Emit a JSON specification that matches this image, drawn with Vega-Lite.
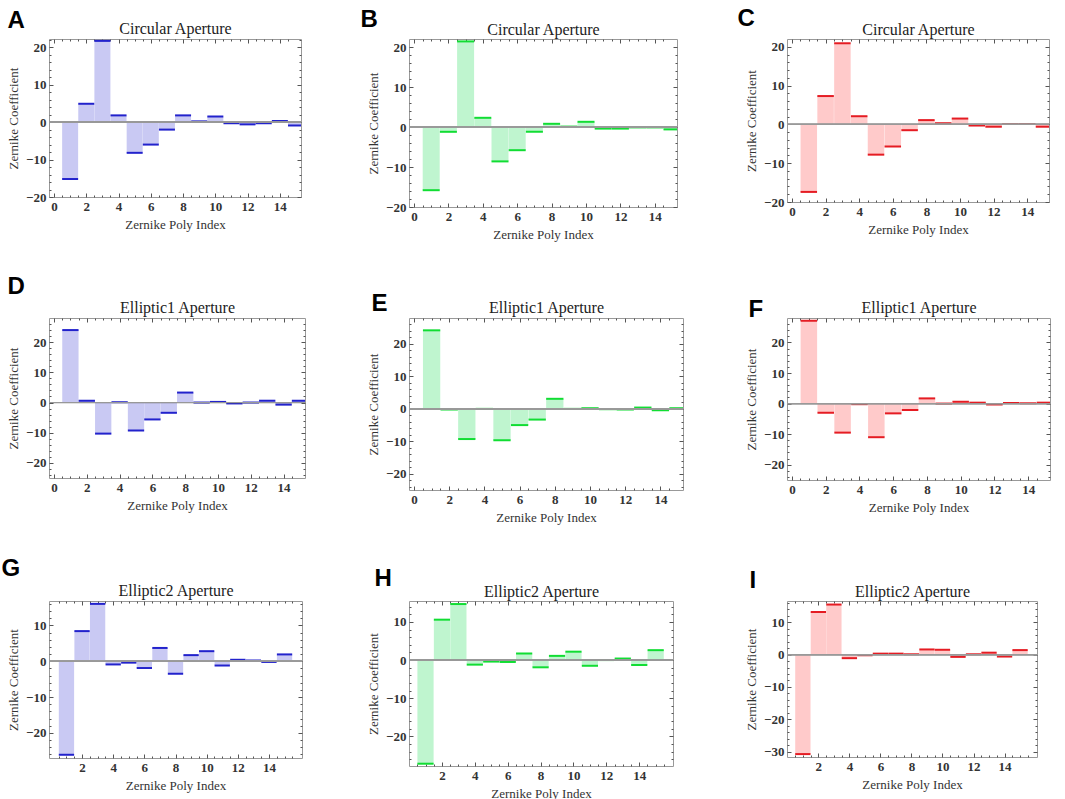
{
"$schema": "https://vega.github.io/schema/vega-lite/v6.json",
"padding": {"left": 1, "top": 6, "right": 0, "bottom": 0},
"background": "white",
"columns": 3,
"align": "each",
"bounds": "flush",
"spacing": {"row": 111, "column": 104},
"datasets": {
"A": [{"i":1,"c":-15.2},{"i":2,"c":4.9},{"i":3,"c":21.7},{"i":4,"c":1.8},{"i":5,"c":-8.2},{"i":6,"c":-6.0},{"i":7,"c":-2.0},{"i":8,"c":1.8},{"i":9,"c":0.2},{"i":10,"c":1.5},{"i":11,"c":-0.3},{"i":12,"c":-0.6},{"i":13,"c":-0.3},{"i":14,"c":0.3},{"i":15,"c":-0.9}],
"B": [{"i":1,"c":-15.8},{"i":2,"c":-1.2},{"i":3,"c":21.4},{"i":4,"c":2.3},{"i":5,"c":-8.6},{"i":6,"c":-5.8},{"i":7,"c":-1.2},{"i":8,"c":0.8},{"i":9,"c":0.1},{"i":10,"c":1.3},{"i":11,"c":-0.4},{"i":12,"c":-0.4},{"i":13,"c":-0.1},{"i":14,"c":-0.1},{"i":15,"c":-0.6}],
"C": [{"i":1,"c":-17.4},{"i":2,"c":7.3},{"i":3,"c":20.9},{"i":4,"c":2.1},{"i":5,"c":-7.8},{"i":6,"c":-5.7},{"i":7,"c":-1.5},{"i":8,"c":1.1},{"i":9,"c":0.3},{"i":10,"c":1.5},{"i":11,"c":-0.3},{"i":12,"c":-0.6},{"i":13,"c":0.1},{"i":14,"c":0.1},{"i":15,"c":-0.6}],
"D": [{"i":1,"c":24.0},{"i":2,"c":0.6},{"i":3,"c":-10.3},{"i":4,"c":0.1},{"i":5,"c":-9.3},{"i":6,"c":-5.6},{"i":7,"c":-3.4},{"i":8,"c":3.3},{"i":9,"c":0.0},{"i":10,"c":0.2},{"i":11,"c":-0.3},{"i":12,"c":0.0},{"i":13,"c":0.6},{"i":14,"c":-0.7},{"i":15,"c":0.6}],
"E": [{"i":1,"c":24.2},{"i":2,"c":-0.2},{"i":3,"c":-9.3},{"i":4,"c":0.0},{"i":5,"c":-9.7},{"i":6,"c":-5.0},{"i":7,"c":-3.3},{"i":8,"c":3.1},{"i":9,"c":0.0},{"i":10,"c":0.2},{"i":11,"c":-0.1},{"i":12,"c":-0.2},{"i":13,"c":0.4},{"i":14,"c":-0.4},{"i":15,"c":0.2}],
"F": [{"i":1,"c":27.1},{"i":2,"c":-3.0},{"i":3,"c":-9.5},{"i":4,"c":-0.2},{"i":5,"c":-11.0},{"i":6,"c":-3.2},{"i":7,"c":-2.1},{"i":8,"c":1.7},{"i":9,"c":0.0},{"i":10,"c":0.6},{"i":11,"c":0.3},{"i":12,"c":-0.3},{"i":13,"c":0.2},{"i":14,"c":0.1},{"i":15,"c":0.3}],
"G": [{"i":1,"c":-26.1},{"i":2,"c":8.4},{"i":3,"c":16.0},{"i":4,"c":-0.9},{"i":5,"c":-0.4},{"i":6,"c":-1.9},{"i":7,"c":3.7},{"i":8,"c":-3.5},{"i":9,"c":1.7},{"i":10,"c":2.8},{"i":11,"c":-1.2},{"i":12,"c":0.4},{"i":13,"c":0.2},{"i":14,"c":-0.2},{"i":15,"c":1.9}],
"H": [{"i":1,"c":-27.2},{"i":2,"c":10.6},{"i":3,"c":14.7},{"i":4,"c":-1.2},{"i":5,"c":-0.4},{"i":6,"c":-0.5},{"i":7,"c":1.7},{"i":8,"c":-1.9},{"i":9,"c":1.1},{"i":10,"c":2.2},{"i":11,"c":-1.5},{"i":12,"c":0.0},{"i":13,"c":0.4},{"i":14,"c":-1.3},{"i":15,"c":2.6}],
"I": [{"i":1,"c":-30.8},{"i":2,"c":13.2},{"i":3,"c":15.5},{"i":4,"c":-1.1},{"i":5,"c":-0.2},{"i":6,"c":0.3},{"i":7,"c":0.3},{"i":8,"c":0.1},{"i":9,"c":1.6},{"i":10,"c":1.5},{"i":11,"c":-0.7},{"i":12,"c":0.1},{"i":13,"c":0.6},{"i":14,"c":-0.6},{"i":15,"c":1.4}]
},
"concat": [
{"title": {"text": "A", "offset": -12, "dx": 0}, "width": 252, "height": 158, "data": {"name": "A"},
 "layer": [
  {"mark": {"type": "bar", "width": 16, "color": "#c9c9f3", "clip": true},
   "encoding": {"x": {"field": "i", "type": "quantitative", "scale": {"domain": [0, 15], "nice": false, "zero": false}, "axis": {"orient": "bottom", "values": [0,2,4,6,8,10,12,14], "title": "Zernike Poly Index"}},
                "y": {"field": "c", "type": "quantitative", "scale": {"domain": [-20, 22.2], "nice": false}, "axis": {"orient": "left", "values": [-20,-10,0,10,20], "title": "Zernike Coefficient"}}}},
  {"mark": {"type": "tick", "orient": "horizontal", "size": 16, "thickness": 2, "color": "#2222cc", "opacity": 1, "clip": true},
   "encoding": {"x": {"field": "i", "type": "quantitative", "axis": {"orient": "top", "values": [0,2,4,6,8,10,12,14], "labels": false, "title": "Circular Aperture", "titleFontSize": 16, "titleColor": "#222", "titlePadding": 2}},
                "y": {"field": "c", "type": "quantitative", "axis": {"orient": "right", "values": [-20,-10,0,10,20], "labels": false, "title": null}}}},
  {"mark": {"type": "rule", "color": "#999", "strokeWidth": 1}, "encoding": {"y": {"datum": 0, "axis": {"orient": "left", "values": [-18,-16,-14,-12,-8,-6,-4,-2,2,4,6,8,12,14,16,18,22], "labels": false, "title": null, "tickSize": -2}}}},
  {"mark": {"type": "point", "opacity": 0}, "encoding": {"x": {"field": "i", "type": "quantitative", "axis": {"orient": "bottom", "values": [0.5,1,1.5,2.5,3,3.5,4.5,5,5.5,6.5,7,7.5,8.5,9,9.5,10.5,11,11.5,12.5,13,13.5,14.5], "labels": false, "title": null, "tickSize": -2}},
                "y": {"field": "c", "type": "quantitative", "axis": {"orient": "right", "values": [-18,-16,-14,-12,-8,-6,-4,-2,2,4,6,8,12,14,16,18,22], "labels": false, "title": null, "tickSize": -2}}}},
  {"mark": {"type": "point", "opacity": 0}, "encoding": {"x": {"field": "i", "type": "quantitative", "axis": {"orient": "top", "values": [0.5,1,1.5,2.5,3,3.5,4.5,5,5.5,6.5,7,7.5,8.5,9,9.5,10.5,11,11.5,12.5,13,13.5,14.5], "labels": false, "title": null, "tickSize": -2}},
                "y": {"field": "c", "type": "quantitative", "axis": null}}}
 ],
 "resolve": {"axis": {"x": "independent", "y": "independent"}}},
{"title": {"text": "B", "offset": -10, "dx": -7}, "width": 268, "height": 168, "data": {"name": "B"},
 "layer": [
  {"mark": {"type": "bar", "width": 17, "color": "#bff5cf", "clip": true},
   "encoding": {"x": {"field": "i", "type": "quantitative", "scale": {"domain": [0, 15], "nice": false, "zero": false}, "axis": {"orient": "bottom", "values": [0,2,4,6,8,10,12,14], "title": "Zernike Poly Index"}},
                "y": {"field": "c", "type": "quantitative", "scale": {"domain": [-20, 22], "nice": false}, "axis": {"orient": "left", "values": [-20,-10,0,10,20], "title": "Zernike Coefficient"}}}},
  {"mark": {"type": "tick", "orient": "horizontal", "size": 17, "thickness": 2, "color": "#11dd33", "opacity": 1, "clip": true},
   "encoding": {"x": {"field": "i", "type": "quantitative", "axis": {"orient": "top", "values": [0,2,4,6,8,10,12,14], "labels": false, "title": "Circular Aperture", "titleFontSize": 16, "titleColor": "#222", "titlePadding": 1}},
                "y": {"field": "c", "type": "quantitative", "axis": {"orient": "right", "values": [-20,-10,0,10,20], "labels": false, "title": null}}}},
  {"mark": {"type": "rule", "color": "#999", "strokeWidth": 1}, "encoding": {"y": {"datum": 0, "axis": {"orient": "left", "values": [-18,-16,-14,-12,-8,-6,-4,-2,2,4,6,8,12,14,16,18], "labels": false, "title": null, "tickSize": -2}}}},
  {"mark": {"type": "point", "opacity": 0}, "encoding": {"x": {"field": "i", "type": "quantitative", "axis": {"orient": "bottom", "values": [0.5,1,1.5,2.5,3,3.5,4.5,5,5.5,6.5,7,7.5,8.5,9,9.5,10.5,11,11.5,12.5,13,13.5,14.5], "labels": false, "title": null, "tickSize": -2}},
                "y": {"field": "c", "type": "quantitative", "axis": {"orient": "right", "values": [-18,-16,-14,-12,-8,-6,-4,-2,2,4,6,8,12,14,16,18], "labels": false, "title": null, "tickSize": -2}}}},
  {"mark": {"type": "point", "opacity": 0}, "encoding": {"x": {"field": "i", "type": "quantitative", "axis": {"orient": "top", "values": [0.5,1,1.5,2.5,3,3.5,4.5,5,5.5,6.5,7,7.5,8.5,9,9.5,10.5,11,11.5,12.5,13,13.5,14.5], "labels": false, "title": null, "tickSize": -2}},
                "y": {"field": "c", "type": "quantitative", "axis": null}}}
 ],
 "resolve": {"axis": {"x": "independent", "y": "independent"}}},
{"title": {"text": "C", "offset": -9, "dx": -8}, "width": 262, "height": 163, "data": {"name": "C"},
 "layer": [
  {"mark": {"type": "bar", "width": 16.5, "color": "#ffcaca", "clip": true},
   "encoding": {"x": {"field": "i", "type": "quantitative", "scale": {"domain": [0, 15], "nice": false, "zero": false}, "axis": {"orient": "bottom", "values": [0,2,4,6,8,10,12,14], "title": "Zernike Poly Index"}},
                "y": {"field": "c", "type": "quantitative", "scale": {"domain": [-20, 22], "nice": false}, "axis": {"orient": "left", "values": [-20,-10,0,10,20], "title": "Zernike Coefficient"}}}},
  {"mark": {"type": "tick", "orient": "horizontal", "size": 16.5, "thickness": 2, "color": "#e51c23", "opacity": 1, "clip": true},
   "encoding": {"x": {"field": "i", "type": "quantitative", "axis": {"orient": "top", "values": [0,2,4,6,8,10,12,14], "labels": false, "title": "Circular Aperture", "titleFontSize": 16, "titleColor": "#222", "titlePadding": 1}},
                "y": {"field": "c", "type": "quantitative", "axis": {"orient": "right", "values": [-20,-10,0,10,20], "labels": false, "title": null}}}},
  {"mark": {"type": "rule", "color": "#999", "strokeWidth": 1}, "encoding": {"y": {"datum": 0, "axis": {"orient": "left", "values": [-18,-16,-14,-12,-8,-6,-4,-2,2,4,6,8,12,14,16,18], "labels": false, "title": null, "tickSize": -2}}}},
  {"mark": {"type": "point", "opacity": 0}, "encoding": {"x": {"field": "i", "type": "quantitative", "axis": {"orient": "bottom", "values": [0.5,1,1.5,2.5,3,3.5,4.5,5,5.5,6.5,7,7.5,8.5,9,9.5,10.5,11,11.5,12.5,13,13.5,14.5], "labels": false, "title": null, "tickSize": -2}},
                "y": {"field": "c", "type": "quantitative", "axis": {"orient": "right", "values": [-18,-16,-14,-12,-8,-6,-4,-2,2,4,6,8,12,14,16,18], "labels": false, "title": null, "tickSize": -2}}}},
  {"mark": {"type": "point", "opacity": 0}, "encoding": {"x": {"field": "i", "type": "quantitative", "axis": {"orient": "top", "values": [0.5,1,1.5,2.5,3,3.5,4.5,5,5.5,6.5,7,7.5,8.5,9,9.5,10.5,11,11.5,12.5,13,13.5,14.5], "labels": false, "title": null, "tickSize": -2}},
                "y": {"field": "c", "type": "quantitative", "axis": null}}}
 ],
 "resolve": {"axis": {"x": "independent", "y": "independent"}}},
{"title": {"text": "D", "offset": 1, "dx": 0}, "width": 256, "height": 160, "data": {"name": "D"},
 "layer": [
  {"mark": {"type": "bar", "width": 16.3, "color": "#c9c9f3", "clip": true},
   "encoding": {"x": {"field": "i", "type": "quantitative", "scale": {"domain": [0, 15], "nice": false, "zero": false}, "axis": {"orient": "bottom", "values": [0,2,4,6,8,10,12,14], "title": "Zernike Poly Index"}},
                "y": {"field": "c", "type": "quantitative", "scale": {"domain": [-25, 28], "nice": false}, "axis": {"orient": "left", "values": [-20,-10,0,10,20], "title": "Zernike Coefficient"}}}},
  {"mark": {"type": "tick", "orient": "horizontal", "size": 16.3, "thickness": 2, "color": "#2222cc", "opacity": 1, "clip": true},
   "encoding": {"x": {"field": "i", "type": "quantitative", "axis": {"orient": "top", "values": [0,2,4,6,8,10,12,14], "labels": false, "title": "Elliptic1 Aperture", "titleFontSize": 16, "titleColor": "#222", "titlePadding": 2}},
                "y": {"field": "c", "type": "quantitative", "axis": {"orient": "right", "values": [-20,-10,0,10,20], "labels": false, "title": null}}}},
  {"mark": {"type": "rule", "color": "#999", "strokeWidth": 1}, "encoding": {"y": {"datum": 0, "axis": {"orient": "left", "values": [-24,-22,-18,-16,-14,-12,-8,-6,-4,-2,2,4,6,8,12,14,16,18,22,24,26], "labels": false, "title": null, "tickSize": -2}}}},
  {"mark": {"type": "point", "opacity": 0}, "encoding": {"x": {"field": "i", "type": "quantitative", "axis": {"orient": "bottom", "values": [0.5,1,1.5,2.5,3,3.5,4.5,5,5.5,6.5,7,7.5,8.5,9,9.5,10.5,11,11.5,12.5,13,13.5,14.5], "labels": false, "title": null, "tickSize": -2}},
                "y": {"field": "c", "type": "quantitative", "axis": {"orient": "right", "values": [-24,-22,-18,-16,-14,-12,-8,-6,-4,-2,2,4,6,8,12,14,16,18,22,24,26], "labels": false, "title": null, "tickSize": -2}}}},
  {"mark": {"type": "point", "opacity": 0}, "encoding": {"x": {"field": "i", "type": "quantitative", "axis": {"orient": "top", "values": [0.5,1,1.5,2.5,3,3.5,4.5,5,5.5,6.5,7,7.5,8.5,9,9.5,10.5,11,11.5,12.5,13,13.5,14.5], "labels": false, "title": null, "tickSize": -2}},
                "y": {"field": "c", "type": "quantitative", "axis": null}}}
 ],
 "resolve": {"axis": {"x": "independent", "y": "independent"}}},
{"title": {"text": "E", "offset": -16, "dx": 4}, "width": 274, "height": 172, "data": {"name": "E"},
 "layer": [
  {"mark": {"type": "bar", "width": 17.3, "color": "#bff5cf", "clip": true},
   "encoding": {"x": {"field": "i", "type": "quantitative", "scale": {"domain": [0, 15], "nice": false, "zero": false}, "axis": {"orient": "bottom", "values": [0,2,4,6,8,10,12,14], "title": "Zernike Poly Index"}},
                "y": {"field": "c", "type": "quantitative", "scale": {"domain": [-25, 28], "nice": false}, "axis": {"orient": "left", "values": [-20,-10,0,10,20], "title": "Zernike Coefficient"}}}},
  {"mark": {"type": "tick", "orient": "horizontal", "size": 17.3, "thickness": 2, "color": "#11dd33", "opacity": 1, "clip": true},
   "encoding": {"x": {"field": "i", "type": "quantitative", "axis": {"orient": "top", "values": [0,2,4,6,8,10,12,14], "labels": false, "title": "Elliptic1 Aperture", "titleFontSize": 16, "titleColor": "#222", "titlePadding": 2}},
                "y": {"field": "c", "type": "quantitative", "axis": {"orient": "right", "values": [-20,-10,0,10,20], "labels": false, "title": null}}}},
  {"mark": {"type": "rule", "color": "#999", "strokeWidth": 1}, "encoding": {"y": {"datum": 0, "axis": {"orient": "left", "values": [-24,-22,-18,-16,-14,-12,-8,-6,-4,-2,2,4,6,8,12,14,16,18,22,24,26], "labels": false, "title": null, "tickSize": -2}}}},
  {"mark": {"type": "point", "opacity": 0}, "encoding": {"x": {"field": "i", "type": "quantitative", "axis": {"orient": "bottom", "values": [0.5,1,1.5,2.5,3,3.5,4.5,5,5.5,6.5,7,7.5,8.5,9,9.5,10.5,11,11.5,12.5,13,13.5,14.5], "labels": false, "title": null, "tickSize": -2}},
                "y": {"field": "c", "type": "quantitative", "axis": {"orient": "right", "values": [-24,-22,-18,-16,-14,-12,-8,-6,-4,-2,2,4,6,8,12,14,16,18,22,24,26], "labels": false, "title": null, "tickSize": -2}}}},
  {"mark": {"type": "point", "opacity": 0}, "encoding": {"x": {"field": "i", "type": "quantitative", "axis": {"orient": "top", "values": [0.5,1,1.5,2.5,3,3.5,4.5,5,5.5,6.5,7,7.5,8.5,9,9.5,10.5,11,11.5,12.5,13,13.5,14.5], "labels": false, "title": null, "tickSize": -2}},
                "y": {"field": "c", "type": "quantitative", "axis": null}}}
 ],
 "resolve": {"axis": {"x": "independent", "y": "independent"}}},
{"title": {"text": "F", "offset": -22, "dx": 3}, "width": 263, "height": 162, "data": {"name": "F"},
 "layer": [
  {"mark": {"type": "bar", "width": 16.5, "color": "#ffcaca", "clip": true},
   "encoding": {"x": {"field": "i", "type": "quantitative", "scale": {"domain": [0, 15], "nice": false, "zero": false}, "axis": {"orient": "bottom", "values": [0,2,4,6,8,10,12,14], "title": "Zernike Poly Index"}},
                "y": {"field": "c", "type": "quantitative", "scale": {"domain": [-25, 28], "nice": false}, "axis": {"orient": "left", "values": [-20,-10,0,10,20], "title": "Zernike Coefficient"}}}},
  {"mark": {"type": "tick", "orient": "horizontal", "size": 16.5, "thickness": 2, "color": "#e51c23", "opacity": 1, "clip": true},
   "encoding": {"x": {"field": "i", "type": "quantitative", "axis": {"orient": "top", "values": [0,2,4,6,8,10,12,14], "labels": false, "title": "Elliptic1 Aperture", "titleFontSize": 16, "titleColor": "#222", "titlePadding": 2}},
                "y": {"field": "c", "type": "quantitative", "axis": {"orient": "right", "values": [-20,-10,0,10,20], "labels": false, "title": null}}}},
  {"mark": {"type": "rule", "color": "#999", "strokeWidth": 1}, "encoding": {"y": {"datum": 0, "axis": {"orient": "left", "values": [-24,-22,-18,-16,-14,-12,-8,-6,-4,-2,2,4,6,8,12,14,16,18,22,24,26], "labels": false, "title": null, "tickSize": -2}}}},
  {"mark": {"type": "point", "opacity": 0}, "encoding": {"x": {"field": "i", "type": "quantitative", "axis": {"orient": "bottom", "values": [0.5,1,1.5,2.5,3,3.5,4.5,5,5.5,6.5,7,7.5,8.5,9,9.5,10.5,11,11.5,12.5,13,13.5,14.5], "labels": false, "title": null, "tickSize": -2}},
                "y": {"field": "c", "type": "quantitative", "axis": {"orient": "right", "values": [-24,-22,-18,-16,-14,-12,-8,-6,-4,-2,2,4,6,8,12,14,16,18,22,24,26], "labels": false, "title": null, "tickSize": -2}}}},
  {"mark": {"type": "point", "opacity": 0}, "encoding": {"x": {"field": "i", "type": "quantitative", "axis": {"orient": "top", "values": [0.5,1,1.5,2.5,3,3.5,4.5,5,5.5,6.5,7,7.5,8.5,9,9.5,10.5,11,11.5,12.5,13,13.5,14.5], "labels": false, "title": null, "tickSize": -2}},
                "y": {"field": "c", "type": "quantitative", "axis": null}}}
 ],
 "resolve": {"axis": {"x": "independent", "y": "independent"}}},
{"title": {"text": "G", "offset": 2, "dx": -6}, "width": 253, "height": 157, "data": {"name": "G"},
 "layer": [
  {"mark": {"type": "bar", "width": 15.3, "color": "#c9c9f3", "clip": true},
   "encoding": {"x": {"field": "i", "type": "quantitative", "scale": {"domain": [0.2, 15.8], "nice": false, "zero": false}, "axis": {"orient": "bottom", "values": [2,4,6,8,10,12,14], "title": "Zernike Poly Index"}},
                "y": {"field": "c", "type": "quantitative", "scale": {"domain": [-27, 16.8], "nice": false}, "axis": {"orient": "left", "values": [-20,-10,0,10], "title": "Zernike Coefficient"}}}},
  {"mark": {"type": "tick", "orient": "horizontal", "size": 15.3, "thickness": 2, "color": "#2222cc", "opacity": 1, "clip": true},
   "encoding": {"x": {"field": "i", "type": "quantitative", "axis": {"orient": "top", "values": [2,4,6,8,10,12,14], "labels": false, "title": "Elliptic2 Aperture", "titleFontSize": 16, "titleColor": "#222", "titlePadding": 2}},
                "y": {"field": "c", "type": "quantitative", "axis": {"orient": "right", "values": [-20,-10,0,10], "labels": false, "title": null}}}},
  {"mark": {"type": "rule", "color": "#999", "strokeWidth": 1}, "encoding": {"y": {"datum": 0, "axis": {"orient": "left", "values": [-26,-24,-22,-18,-16,-14,-12,-8,-6,-4,-2,2,4,6,8,12,14,16], "labels": false, "title": null, "tickSize": -2}}}},
  {"mark": {"type": "point", "opacity": 0}, "encoding": {"x": {"field": "i", "type": "quantitative", "axis": {"orient": "bottom", "values": [0.5,1,1.5,2.5,3,3.5,4.5,5,5.5,6.5,7,7.5,8.5,9,9.5,10.5,11,11.5,12.5,13,13.5,14.5,15,15.5], "labels": false, "title": null, "tickSize": -2}},
                "y": {"field": "c", "type": "quantitative", "axis": {"orient": "right", "values": [-26,-24,-22,-18,-16,-14,-12,-8,-6,-4,-2,2,4,6,8,12,14,16], "labels": false, "title": null, "tickSize": -2}}}},
  {"mark": {"type": "point", "opacity": 0}, "encoding": {"x": {"field": "i", "type": "quantitative", "axis": {"orient": "top", "values": [0.5,1,1.5,2.5,3,3.5,4.5,5,5.5,6.5,7,7.5,8.5,9,9.5,10.5,11,11.5,12.5,13,13.5,14.5,15,15.5], "labels": false, "title": null, "tickSize": -2}},
                "y": {"field": "c", "type": "quantitative", "axis": null}}}
 ],
 "resolve": {"axis": {"x": "independent", "y": "independent"}}},
{"title": {"text": "H", "offset": -7, "dx": 7}, "width": 264, "height": 165, "data": {"name": "H"},
 "layer": [
  {"mark": {"type": "bar", "width": 16.2, "color": "#bff5cf", "clip": true},
   "encoding": {"x": {"field": "i", "type": "quantitative", "scale": {"domain": [0.3, 15.75], "nice": false, "zero": false}, "axis": {"orient": "bottom", "values": [2,4,6,8,10,12,14], "title": "Zernike Poly Index"}},
                "y": {"field": "c", "type": "quantitative", "scale": {"domain": [-27.8, 15.5], "nice": false}, "axis": {"orient": "left", "values": [-20,-10,0,10], "title": "Zernike Coefficient"}}}},
  {"mark": {"type": "tick", "orient": "horizontal", "size": 16.2, "thickness": 2, "color": "#11dd33", "opacity": 1, "clip": true},
   "encoding": {"x": {"field": "i", "type": "quantitative", "axis": {"orient": "top", "values": [2,4,6,8,10,12,14], "labels": false, "title": "Elliptic2 Aperture", "titleFontSize": 16, "titleColor": "#222", "titlePadding": 1}},
                "y": {"field": "c", "type": "quantitative", "axis": {"orient": "right", "values": [-20,-10,0,10], "labels": false, "title": null}}}},
  {"mark": {"type": "rule", "color": "#999", "strokeWidth": 1}, "encoding": {"y": {"datum": 0, "axis": {"orient": "left", "values": [-26,-24,-22,-18,-16,-14,-12,-8,-6,-4,-2,2,4,6,8,12,14], "labels": false, "title": null, "tickSize": -2}}}},
  {"mark": {"type": "point", "opacity": 0}, "encoding": {"x": {"field": "i", "type": "quantitative", "axis": {"orient": "bottom", "values": [0.5,1,1.5,2.5,3,3.5,4.5,5,5.5,6.5,7,7.5,8.5,9,9.5,10.5,11,11.5,12.5,13,13.5,14.5,15,15.5], "labels": false, "title": null, "tickSize": -2}},
                "y": {"field": "c", "type": "quantitative", "axis": {"orient": "right", "values": [-26,-24,-22,-18,-16,-14,-12,-8,-6,-4,-2,2,4,6,8,12,14], "labels": false, "title": null, "tickSize": -2}}}},
  {"mark": {"type": "point", "opacity": 0}, "encoding": {"x": {"field": "i", "type": "quantitative", "axis": {"orient": "top", "values": [0.5,1,1.5,2.5,3,3.5,4.5,5,5.5,6.5,7,7.5,8.5,9,9.5,10.5,11,11.5,12.5,13,13.5,14.5,15,15.5], "labels": false, "title": null, "tickSize": -2}},
                "y": {"field": "c", "type": "quantitative", "axis": null}}}
 ],
 "resolve": {"axis": {"x": "independent", "y": "independent"}}},
{"title": {"text": "I", "offset": -9, "dx": 4}, "width": 250, "height": 156, "data": {"name": "I"},
 "layer": [
  {"mark": {"type": "bar", "width": 15.3, "color": "#ffcaca", "clip": true},
   "encoding": {"x": {"field": "i", "type": "quantitative", "scale": {"domain": [0.3, 15.77], "nice": false, "zero": false}, "axis": {"orient": "bottom", "values": [2,4,6,8,10,12,14], "title": "Zernike Poly Index"}},
                "y": {"field": "c", "type": "quantitative", "scale": {"domain": [-31.7, 16.6], "nice": false}, "axis": {"orient": "left", "values": [-30,-20,-10,0,10], "title": "Zernike Coefficient"}}}},
  {"mark": {"type": "tick", "orient": "horizontal", "size": 15.3, "thickness": 2, "color": "#e51c23", "opacity": 1, "clip": true},
   "encoding": {"x": {"field": "i", "type": "quantitative", "axis": {"orient": "top", "values": [2,4,6,8,10,12,14], "labels": false, "title": "Elliptic2 Aperture", "titleFontSize": 16, "titleColor": "#222", "titlePadding": 1}},
                "y": {"field": "c", "type": "quantitative", "axis": {"orient": "right", "values": [-30,-20,-10,0,10], "labels": false, "title": null}}}},
  {"mark": {"type": "rule", "color": "#999", "strokeWidth": 1}, "encoding": {"y": {"datum": 0, "axis": {"orient": "left", "values": [-28,-26,-24,-22,-18,-16,-14,-12,-8,-6,-4,-2,2,4,6,8,12,14,16], "labels": false, "title": null, "tickSize": -2}}}},
  {"mark": {"type": "point", "opacity": 0}, "encoding": {"x": {"field": "i", "type": "quantitative", "axis": {"orient": "bottom", "values": [0.5,1,1.5,2.5,3,3.5,4.5,5,5.5,6.5,7,7.5,8.5,9,9.5,10.5,11,11.5,12.5,13,13.5,14.5,15,15.5], "labels": false, "title": null, "tickSize": -2}},
                "y": {"field": "c", "type": "quantitative", "axis": {"orient": "right", "values": [-28,-26,-24,-22,-18,-16,-14,-12,-8,-6,-4,-2,2,4,6,8,12,14,16], "labels": false, "title": null, "tickSize": -2}}}},
  {"mark": {"type": "point", "opacity": 0}, "encoding": {"x": {"field": "i", "type": "quantitative", "axis": {"orient": "top", "values": [0.5,1,1.5,2.5,3,3.5,4.5,5,5.5,6.5,7,7.5,8.5,9,9.5,10.5,11,11.5,12.5,13,13.5,14.5,15,15.5], "labels": false, "title": null, "tickSize": -2}},
                "y": {"field": "c", "type": "quantitative", "axis": null}}}
 ],
 "resolve": {"axis": {"x": "independent", "y": "independent"}}}
],
"config": {
 "view": {"stroke": "#999", "strokeWidth": 1},
 "axis": {"domain": false, "grid": false, "tickSize": -4, "tickColor": "#555", "labelPadding": 7, "labelFont": "Liberation Serif", "labelFontSize": 13, "labelFontWeight": "bold", "labelColor": "#333", "titleFont": "Liberation Serif", "titleFontSize": 13, "titleFontWeight": "normal", "titleColor": "#333", "titlePadding": 5},
 "axisX": {"labelFlush": false},
 "title": {"font": "Liberation Sans", "fontSize": 24, "fontWeight": "bold", "color": "#000", "anchor": "start", "frame": "bounds"}
}
}
